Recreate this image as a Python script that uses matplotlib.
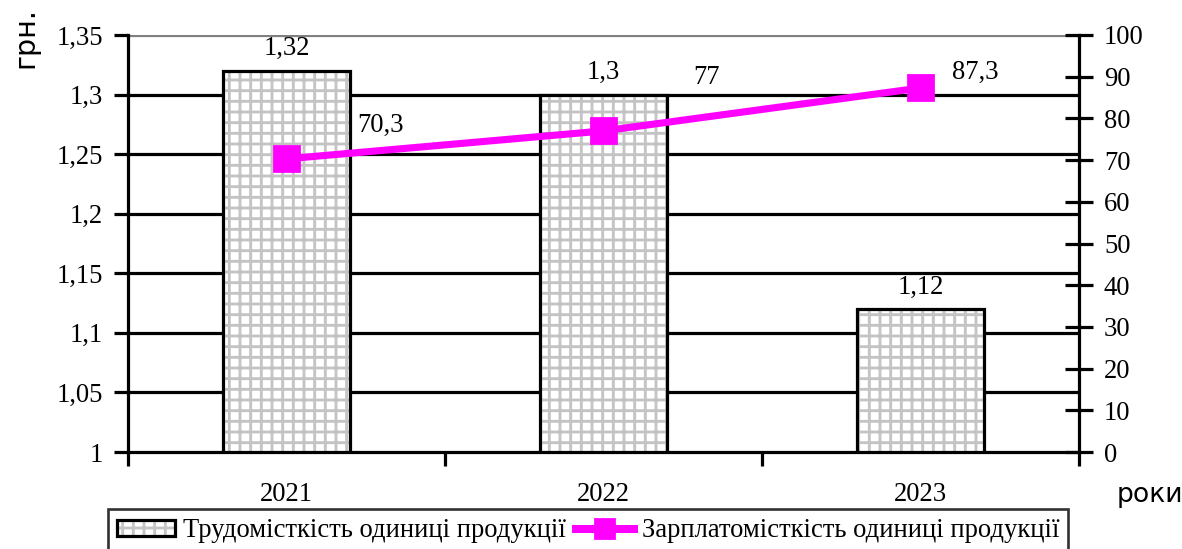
import matplotlib.pyplot as plt
from matplotlib.legend_handler import HandlerTuple

plt.rcParams["font.family"] = "Liberation Serif"
plt.rcParams["font.size"] = 15
plt.rcParams["hatch.linewidth"] = 1.6

years = ["2021", "2022", "2023"]
labour = [1.32, 1.30, 1.12]       # трудомісткість, грн.
wages = [70.3, 77.0, 87.3]        # зарплатомісткість
labour_lbl = ["1,32", "1,3", "1,12"]
wages_lbl = ["70,3", "77", "87,3"]
# зсув підписів лінії, пт
wages_off = [(53, 19), (58, 30), (31, 9)]

fig = plt.figure(figsize=(1182 / 128, 549 / 128), dpi=128)
ax = fig.add_axes([128 / 1182, 1 - 452 / 549, 951 / 1182, 417 / 549])
x = range(len(years))

# сіра сітка всередині стовпчиків, потім чорний контур
ax.bar(x, labour, width=0.4, color="white", edgecolor="#c4c4c4",
       linewidth=0, hatch="++", zorder=2)
bars = ax.bar(x, labour, width=0.4, fill=False, edgecolor="black",
              linewidth=1.8, zorder=2.1)
ax.set_ylim(1, 1.35)
ax.set_xlim(-0.5, 2.5)
ax.set_yticks([1, 1.05, 1.1, 1.15, 1.2, 1.25, 1.3, 1.35])
ax.set_yticklabels(["1", "1,05", "1,1", "1,15", "1,2", "1,25", "1,3", "1,35"])
for yv in [1.05, 1.1, 1.15, 1.2, 1.25, 1.3]:
    ax.axhline(yv, color="black", lw=1.8, zorder=1)
ax.axhline(1.35, color="#808080", lw=1.8, zorder=1)

ax.set_xticks(list(x))
ax.set_xticklabels(years)
ax.tick_params(axis="x", length=0, pad=17)
ax.set_xticks([-0.5, 0.5, 1.5, 2.5], minor=True)
ax.tick_params(axis="x", which="minor", length=8, width=1.8, direction="out")
ax.tick_params(axis="y", length=8, width=1.8, direction="out", pad=6)

for s in ["top", "right"]:
    ax.spines[s].set_visible(False)
ax.spines["left"].set_linewidth(1.8)
ax.spines["bottom"].set_linewidth(1.8)

for xi, v, t in zip(x, labour, labour_lbl):
    ax.text(xi, v + 0.008, t, ha="center", va="bottom")

ax2 = ax.twinx()
ax2.set_ylim(0, 100)
ax2.set_yticks(range(0, 101, 10))
ax2.tick_params(axis="y", length=16, width=1.8, direction="inout", pad=6)
for s in ["top", "left", "bottom"]:
    ax2.spines[s].set_visible(False)
ax2.spines["right"].set_linewidth(1.8)
line, = ax2.plot(x, wages, color="#ff00ff", lw=4, marker="s", markersize=14.5,
                 zorder=3)
for xi, v, t, off in zip(x, wages, wages_lbl, wages_off):
    ax2.annotate(t, (xi, v), xytext=off, textcoords="offset points",
                 ha="center", va="center")

fig.text(25 / 1182, 1 - 38 / 549, "грн.", rotation=90, ha="center", va="center",
         family="DejaVu Sans", fontsize=16)
fig.text(1150 / 1182, 1 - 495 / 549, "роки", ha="center", va="center",
         family="DejaVu Sans", fontsize=15)

# легенда: сірий візерунок з чорною рамкою
bar_fill = plt.Rectangle((0, 0), 1, 1, facecolor="white", edgecolor="#c4c4c4",
                         hatch="++", linewidth=0)
bar_edge = plt.Rectangle((0, 0), 1, 1, fill=False, edgecolor="black",
                         linewidth=1.8)
line_h = plt.Line2D([], [], color="#ff00ff", lw=4.5, marker="s", markersize=11)
leg = fig.legend([(bar_fill, bar_edge), line_h],
                 ["Трудомісткість одиниці продукції",
                  "Зарплатомісткість одиниці продукції"], ncol=2,
                 handler_map={tuple: HandlerTuple(ndivide=1, pad=0)},
                 loc="upper left", bbox_to_anchor=(108 / 1182, 1 - 509 / 549),
                 borderaxespad=0, frameon=True, fancybox=False,
                 edgecolor="black", handlelength=2.15, handleheight=0.56,
                 handletextpad=0.3, columnspacing=0.4, borderpad=0.35)
leg.get_frame().set_linewidth(1.5)

fig.savefig("out.png", dpi=128)
